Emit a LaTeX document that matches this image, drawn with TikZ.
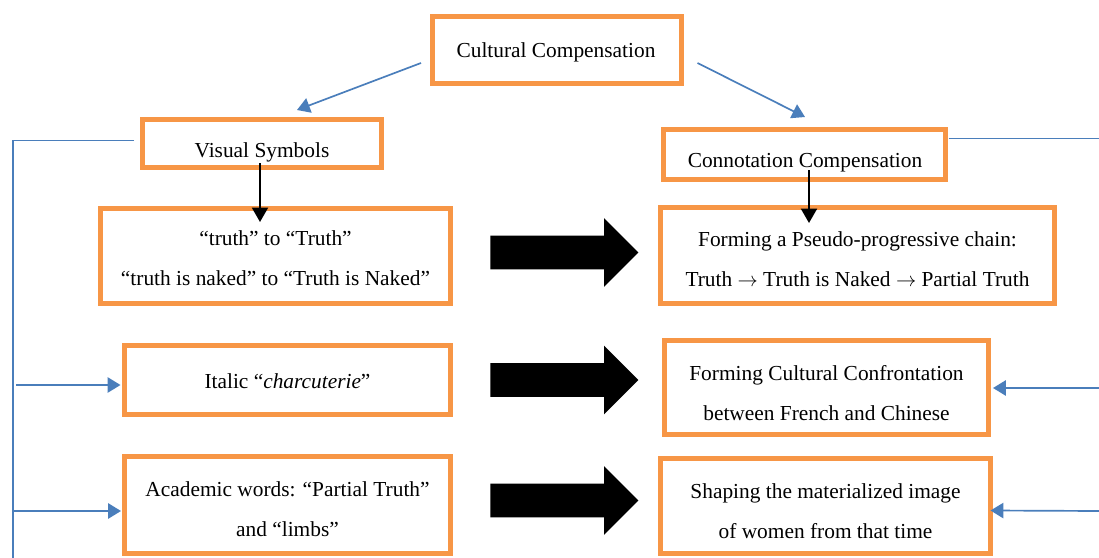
\documentclass[tikz,border=0pt]{standalone}
\usepackage{fontspec}
\setmainfont{Liberation Serif}
\usetikzlibrary{arrows.meta, calc, shapes.arrows}
\definecolor{boxorange}{RGB}{247, 150, 70}
\definecolor{linkblue}{RGB}{74, 126, 187}

\begin{document}
\begin{tikzpicture}[x=0.025cm, y=-0.025cm,
  box/.style={draw=boxorange, line width=3.6pt, inner sep=0, outer sep=0},
  boxsize/.style 2 args={minimum width=#1*0.025cm, minimum height=#2*0.025cm},
  txt/.style={font=\fontsize{15.2}{28.4}\selectfont, align=center, inner sep=0, anchor=base},
  blueline/.style={draw=linkblue, line width=1.2pt},
  bluearr/.style={blueline, -{Triangle[length=0.32cm, width=0.38cm]}},
  blkarr/.style={draw=black, line width=1.4pt, -{Triangle[length=0.36cm, width=0.4cm]}},
  fatarrow/.style={single arrow, fill=black, minimum height=3.7cm, inner xsep=0, inner ysep=0.4125cm,
    single arrow head extend=0.4375cm, anchor=tail}]
  \useasboundingbox (0, 0) rectangle (1099, 558);

  % Top level
  \node[box, boxsize={249}{67}] (cult) at (557, 50) {};
  \node[txt] (cult-t) at (556, 58) {Cultural Compensation};

  % Second level
  \node[box, boxsize={239}{48}] (vis) at (262, 143.5) {};
  \node[txt] (vis-t) at (262, 157) {Visual Symbols};
  \node[box, boxsize={282}{50}] (conn) at (804.5, 154.5) {};
  \node[txt] (conn-t) at (805, 167) {Connotation Compensation};

  % Left column
  \node[box, boxsize={350}{95}] (truth) at (275.5, 256) {};
  \node[txt] (truth-t) at (275.5, 285) {“truth” to “Truth”\\“truth is naked” to “Truth is Naked”};
  \node[box, boxsize={326}{69}] (ital) at (287.5, 380) {};
  \node[txt] (ital-t) at (287.5, 388) {Italic “\textit{charcuterie}”};
  \node[box, boxsize={326}{97}] (acad) at (287.5, 505) {};
  \node[txt] (acad-t) at (287.5, 536) {Academic words: “Partial Truth”\\and “limbs”};

  % Right column
  \node[box, boxsize={394}{96}] (pseudo) at (857.5, 255.5) {};
  \node[txt] (pseudo-t) at (857.5, 286) {Forming a Pseudo-progressive chain:\\Truth $\rightarrow$ Truth is Naked $\rightarrow$ Partial Truth};
  \node[box, boxsize={324}{94}] (conf) at (826.5, 387.5) {};
  \node[txt] (conf-t) at (826.5, 420) {Forming Cultural Confrontation\\between French and Chinese};
  \node[box, boxsize={330}{95}] (shape) at (825.5, 506) {};
  \node[txt] (shape-t) at (825.5, 538) {Shaping the materialized image\\of women from that time};

  % Block arrows
  \node[fatarrow] (fat1) at (490, 252.5) {};
  \node[fatarrow] (fat2) at (490, 380) {};
  \node[fatarrow] (fat3) at (490, 500.5) {};

  % Branches from the top
  \draw[bluearr] ($(cult.west)+(-11.5, 13)$) -- ($(vis.north)+(35, -9.5)$);
  \draw[bluearr] ($(cult.east)+(16, 13)$) -- ($(conn.north)+(0.5, -12.5)$);
  \draw[blkarr] ($(vis.south)+(-2, -4.5)$) -- ($(truth.north)+(-15.5, 13.5)$);
  \draw[blkarr] ($(conn.south)+(4.5, -9.5)$) -- ($(pseudo.north)+(-48.5, 15.5)$);

  % Left frame
  \coordinate (lcorner) at (13, 140.5);
  \coordinate (lbottom) at (13, 558);
  \coordinate (lmid) at (16, 385);
  \coordinate (llow) at (14, 511);
  \draw[blueline] ($(vis.west)+(-8.5, -3)$) -- (lcorner) -- (lbottom);
  \draw[bluearr] (lmid) -- ($(ital.west)+(-4, 5)$);
  \draw[bluearr] (llow) -- ($(acad.west)+(-3.5, 6)$);

  % Right frame
  \coordinate (rtop) at (1099, 138.5);
  \coordinate (rmid) at (1099, 388);
  \coordinate (rlow) at (1099, 511);
  \draw[blueline] ($(conn.east)+(3, -16)$) -- (rtop);
  \draw[bluearr] (rmid) -- ($(conf.east)+(4.5, 0.5)$);
  \draw[bluearr] (rlow) -- ($(shape.east)+(0, 4.5)$);
\end{tikzpicture}
\end{document}
